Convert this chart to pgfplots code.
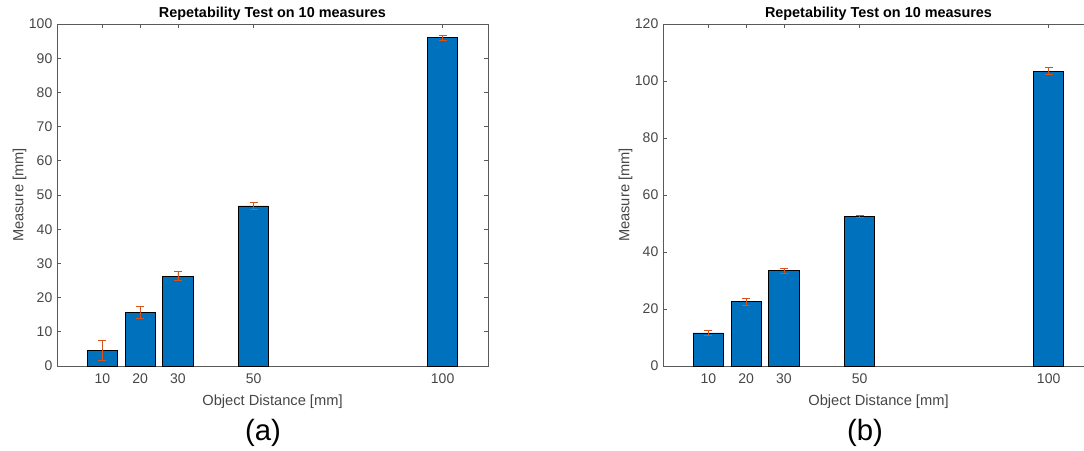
\documentclass[border=0pt]{standalone}
\usepackage{pgfplots}
\pgfplotsset{compat=1.18}
\usepackage{pgfplotstable}
\usepackage{fontspec}
\setmainfont{Liberation Sans}

\definecolor{barblue}{RGB}{0,114,189}
\definecolor{errorange}{RGB}{217,83,25}
\definecolor{axisgray}{RGB}{90,90,90}
\definecolor{textgray}{RGB}{70,70,70}

% distance, mean measure, half-range of the 10 repetitions
\pgfplotstableread{
x   y     e
10  4.5   2.9
20  15.6  1.7
30  26.3  1.3
50  46.8  1.1
100 96.0  0.7
}\tableA
\pgfplotstableread{
x   y     e
10  11.6  0.9
20  22.5  1.2
30  33.4  0.8
50  52.4  0.4
100 103.4 1.2
}\tableB

\pgfplotsset{
  reptest/.style={
    scale only axis,
    width=323.25pt, height=256.5pt,
    anchor=south west,
    xmin=-2, xmax=112, ymin=0,
    xtick={10,20,30,50,100},
    tick align=inside,
    major tick length=3pt,
    axis line style={axisgray, line width=0.5pt},
    tick style={axisgray, line width=0.5pt},
    /pgf/number format/assume math mode=true,
    tick label style={font=\fontsize{10.5}{12}\selectfont, text=textgray},
    xticklabel style={yshift=-2pt},
    label style={font=\fontsize{11}{13}\selectfont, text=textgray},
    title style={font=\bfseries\fontsize{10.8}{12}\selectfont, yshift=-7pt},
    title={Repetability Test on 10 measures},
    xlabel={Object Distance [mm]},
    ylabel={Measure [mm]},
    xlabel style={yshift=-1.5pt},
    ylabel style={yshift=-5pt},
    bar width=8,
  },
  repbars/.style={
    ybar, bar shift=0pt,
    fill=barblue, draw=black, line width=0.6pt,
    error bars/.cd,
      y dir=both, y explicit,
      error bar style={errorange, line width=0.6pt},
      error mark options={errorange, rotate=90, mark size=3pt, line width=0.6pt},
  },
}

\begin{document}
\begin{tikzpicture}
\useasboundingbox (0pt,0pt) rectangle (813pt,337.5pt);
\clip (0pt,0pt) rectangle (813pt,337.5pt);

\begin{axis}[reptest, at={(42.75pt,63pt)}, ymax=100, ytick={0,10,...,100}]
  \addplot[repbars] table[x=x, y=y, y error=e] {\tableA};
\end{axis}

\begin{axis}[reptest, at={(497.25pt,63pt)}, ymax=120, ytick={0,20,...,120}]
  \addplot[repbars] table[x=x, y=y, y error=e] {\tableB};
\end{axis}

\node[font=\fontsize{22}{24}\selectfont] at (197.25pt,13pt) {(a)};
\node[font=\fontsize{22}{24}\selectfont] at (648.75pt,13pt) {(b)};
\end{tikzpicture}
\end{document}
